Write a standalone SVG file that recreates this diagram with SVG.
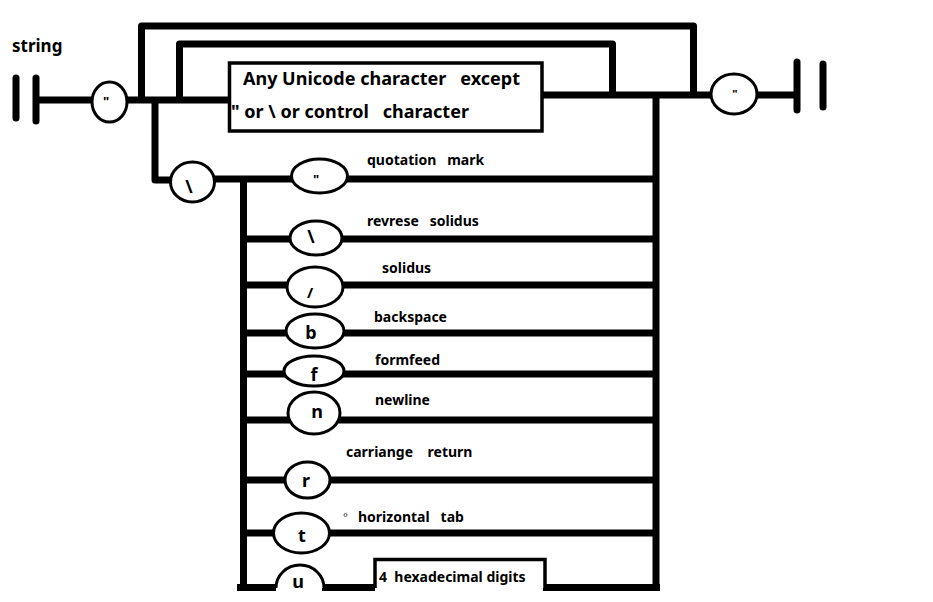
<svg xmlns="http://www.w3.org/2000/svg" width="933" height="602" viewBox="0 0 933 602">
<style>
  .ln { fill: none; stroke: #000; stroke-width: 7; stroke-linejoin: round; }
  .bar { stroke: #000; stroke-width: 7; stroke-linecap: round; }
  .oval { fill: #fff; stroke: #000; stroke-width: 3; }
  .box { fill: #fff; stroke: #000; stroke-width: 3.5; }
  text { font-family: "Noto Sans", "DejaVu Sans", sans-serif; font-weight: bold; fill: #000; white-space: pre; }
  .lbl { font-size: 14px; }
  .big { font-size: 18px; }
  .sym { font-size: 18px; text-anchor: middle; }
  .q { font-size: 13px; text-anchor: middle; }
</style>
<rect width="933" height="602" fill="#fff"/>
<text x="12" y="52" style="font-size:17px">string</text>

<g id="connectors">
  <!-- main entry line -->
  <path class="ln" d="M36,100 H228"/>
  <!-- outer loop -->
  <path class="ln" d="M141.5,100 V26 H693.5 V95"/>
  <!-- inner loop -->
  <path class="ln" d="M179.5,100 V44 H612.5 V95"/>
  <!-- exit line -->
  <path class="ln" d="M542,95 H797"/>
  <!-- escape branch -->
  <path class="ln" d="M155,100 V180 H175"/>
  <!-- row 1 -->
  <path class="ln" d="M210,179 H656"/>
  <!-- right vertical -->
  <path class="ln" d="M656,95 V590"/>
  <!-- left vertical -->
  <path class="ln" d="M243.5,179 V590"/>
  <!-- rows -->
  <path class="ln" d="M243.5,239 H656"/>
  <path class="ln" d="M243.5,285 H656"/>
  <path class="ln" d="M243.5,333 H656"/>
  <path class="ln" d="M243.5,374 H656"/>
  <path class="ln" d="M243.5,420 H656"/>
  <path class="ln" d="M243.5,480 H656"/>
  <path class="ln" d="M243.5,533 H656"/>
  <path class="ln" d="M237,587.5 H276 M322,587.5 H375 M543,587.5 H660"/>
</g>

<g id="start">
  <line class="bar" x1="16" y1="78" x2="16" y2="118"/>
  <line class="bar" x1="36" y1="78" x2="36" y2="121"/>
</g>
<g id="end">
  <line class="bar" x1="797" y1="62" x2="797" y2="110"/>
  <line class="bar" x1="823" y1="64" x2="823" y2="107"/>
</g>

<g id="open-quote">
  <ellipse class="oval" cx="109.5" cy="102" rx="17.5" ry="20"/>
  <text class="q" x="106" y="106">"</text>
</g>
<g id="close-quote">
  <ellipse class="oval" cx="734" cy="94" rx="23" ry="20"/>
  <text class="q" x="735" y="98" style="font-size:11px">"</text>
</g>

<g id="any-char">
  <rect class="box" x="229.5" y="63" width="312.5" height="68"/>
  <text class="big" x="243" y="85">Any Unicode character   except</text>
  <text class="big" x="231" y="118">" or \ or control   character</text>
</g>

<g id="backslash">
  <ellipse class="oval" cx="192.5" cy="182" rx="22" ry="20"/>
  <text class="sym" x="189" y="193">\</text>
</g>

<g id="esc-quote">
  <ellipse class="oval" cx="319.5" cy="176" rx="28" ry="17"/>
  <text class="q" x="316" y="184">"</text>
  <text class="lbl" x="367" y="165">quotation   mark</text>
</g>
<g id="esc-backslash">
  <ellipse class="oval" cx="316" cy="238" rx="26" ry="17"/>
  <text class="sym" x="311" y="243">\</text>
  <text class="lbl" x="367" y="226">revrese   solidus</text>
</g>
<g id="esc-solidus">
  <ellipse class="oval" cx="315" cy="287" rx="28" ry="20"/>
  <text class="sym" x="310" y="298" style="font-size:15px">/</text>
  <text class="lbl" x="382" y="273">solidus</text>
</g>
<g id="esc-b">
  <ellipse class="oval" cx="315" cy="331" rx="29" ry="17"/>
  <text class="sym" x="311" y="339">b</text>
  <text class="lbl" x="374" y="322">backspace</text>
</g>
<g id="esc-f">
  <ellipse class="oval" cx="314" cy="371" rx="30" ry="15"/>
  <text class="sym" x="314" y="381">f</text>
  <text class="lbl" x="375" y="365">formfeed</text>
</g>
<g id="esc-n">
  <ellipse class="oval" cx="314" cy="413" rx="26" ry="21"/>
  <text class="sym" x="317" y="418">n</text>
  <text class="lbl" x="375" y="405">newline</text>
</g>
<g id="esc-r">
  <ellipse class="oval" cx="307.5" cy="480" rx="22.5" ry="18"/>
  <text class="sym" x="306" y="487">r</text>
  <text class="lbl" x="346" y="457">carriange    return</text>
</g>
<g id="esc-t">
  <ellipse class="oval" cx="301.5" cy="533" rx="28" ry="20"/>
  <text class="sym" x="302" y="542">t</text>
  <circle cx="345.5" cy="515" r="1.5" fill="none" stroke="#555" stroke-width="1"/>
  <text class="lbl" x="358" y="522">horizontal   tab</text>
</g>
<g id="esc-u">
  <path class="oval" d="M276,588 A24,23 0 0 1 324,588"/>
  <text class="sym" x="298" y="588">u</text>
</g>
<g id="hex-digits">
  <path class="box" d="M375,588 V559.5 H545 V588"/>
  <text class="lbl" x="379" y="582">4  hexadecimal digits</text>
</g>
</svg>
